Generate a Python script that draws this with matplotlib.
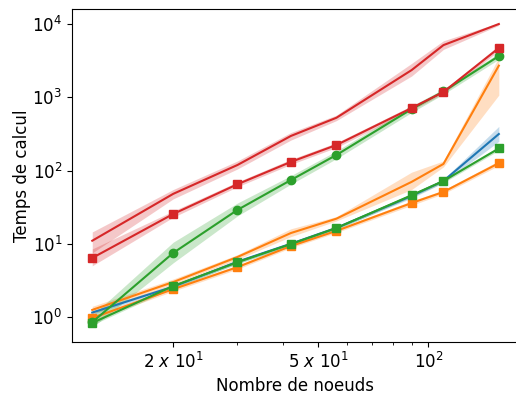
import matplotlib
matplotlib.use("Agg")
import matplotlib.pyplot as plt
from matplotlib.ticker import FixedLocator, NullLocator, NullFormatter

# nombre de noeuds (n*(n-1))
noeuds = [12, 20, 30, 42, 56, 90, 110, 156]

# temps moyens + bornes de l'intervalle
bleu = [1.15, 2.6, 5.7, 10, 16.5, 45, 72, 315]
bleu_lo = [1.08, 2.45, 5.4, 9.5, 15.8, 42, 68, 250]
bleu_hi = [1.22, 2.75, 6.0, 10.5, 17.2, 48, 76, 400]

orange = [1.25, 3.0, 6.6, 14, 22, 70, 123, 2700]
orange_lo = [1.1, 2.8, 6.1, 12.5, 20.5, 55, 112, 1070]
orange_hi = [1.4, 3.3, 7.1, 16, 23.5, 95, 135, 3500]

orange_sq = [0.97, 2.4, 4.8, 9.3, 15, 36, 51, 126]
orange_sq_lo = [0.9, 2.25, 4.5, 8.8, 14.2, 33.5, 48, 117]
orange_sq_hi = [1.05, 2.55, 5.1, 9.8, 15.8, 38.5, 54, 136]

vert_o = [0.85, 7.5, 29, 74, 163, 690, 1200, 3650]
vert_o_lo = [0.72, 5.5, 24, 65, 145, 620, 1100, 3300]
vert_o_hi = [1.05, 10.5, 36, 85, 185, 760, 1300, 4000]

vert_sq = [0.83, 2.65, 5.6, 9.9, 16.4, 46, 72, 200]
vert_sq_lo = [0.78, 2.5, 5.3, 9.4, 15.6, 43.5, 68, 188]
vert_sq_hi = [0.88, 2.8, 5.9, 10.4, 17.2, 48.5, 76, 212]

rouge = [11, 48, 119, 296, 525, 2350, 5150, 10000]
rouge_lo = [7.5, 41, 105, 260, 480, 1950, 4500, 9600]
rouge_hi = [14.5, 55, 135, 330, 570, 2900, 5900, 10400]

rouge_sq = [6.4, 25.5, 65, 131, 223, 713, 1180, 4700]
rouge_sq_lo = [5.0, 23, 60, 121, 206, 665, 1120, 4300]
rouge_sq_hi = [8.5, 28, 70, 142, 240, 765, 1250, 5100]

series = [
    (bleu, bleu_lo, bleu_hi, "tab:blue", None),
    (orange, orange_lo, orange_hi, "tab:orange", None),
    (orange_sq, orange_sq_lo, orange_sq_hi, "tab:orange", "s"),
    (vert_o, vert_o_lo, vert_o_hi, "tab:green", "o"),
    (vert_sq, vert_sq_lo, vert_sq_hi, "tab:green", "s"),
    (rouge, rouge_lo, rouge_hi, "tab:red", None),
    (rouge_sq, rouge_sq_lo, rouge_sq_hi, "tab:red", "s"),
]

fig = plt.figure(figsize=(5.16, 3.94), dpi=100)
ax = fig.add_axes([0.1395, 0.132, 0.866, 0.844])

for y, lo, hi, c, m in series:
    ax.fill_between(noeuds, lo, hi, color=c, alpha=0.25, linewidth=0)
    ax.plot(noeuds, y, color=c, marker=m, markersize=6, linewidth=1.5)

ax.set_xscale("log")
ax.set_yscale("log")
ax.set_xlim(10.56, 177)
ax.set_ylim(0.456, 15800)

ax.xaxis.set_major_locator(FixedLocator([20, 50, 100]))
ax.set_xticklabels([r"$2\ x\ 10^1$", r"$5\ x\ 10^1$", r"$10^2$"])
ax.xaxis.set_minor_locator(FixedLocator([30, 40, 60, 70, 80, 90]))
ax.xaxis.set_minor_formatter(NullFormatter())
ax.yaxis.set_minor_locator(NullLocator())

ax.tick_params(labelsize=12)
ax.set_xlabel("Nombre de noeuds", fontsize=12)
ax.set_ylabel("Temps de calcul", fontsize=12, labelpad=1)

fig.savefig("out.png", dpi=100)
